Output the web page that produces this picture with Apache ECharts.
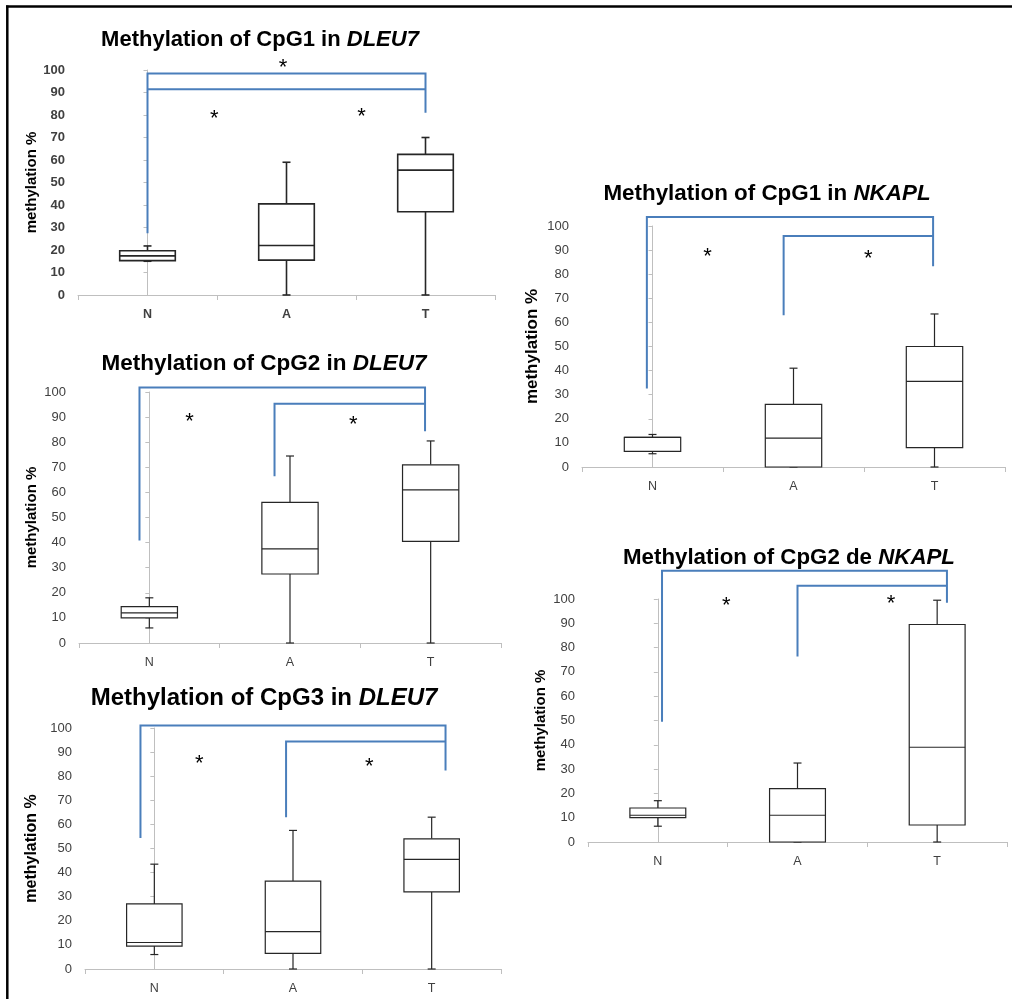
<!DOCTYPE html>
<html><head><meta charset="utf-8">
<script src="https://cdn.jsdelivr.net/npm/echarts@6/dist/echarts.min.js"></script>
<style>html,body{margin:0;padding:0;background:#fff;}#c{width:1012px;height:999px;}</style>
</head><body><div id="c"></div>
<script>
const categories = ['N', 'A', 'T'];
const yTicks = [0, 10, 20, 30, 40, 50, 60, 70, 80, 90, 100];
const yName = 'methylation %';

// box values: [min, Q1, median, Q3, max]
const boxDLEU7CpG1 = [[15, 15.3, 17.4, 19.7, 21.8], [0, 15.5, 22, 40.5, 59], [0, 37, 55.5, 62.5, 70]];
const boxDLEU7CpG2 = [[6, 10, 12, 14.5, 18], [0, 27.5, 37.5, 56, 74.5], [0, 40.5, 61, 71, 80.5]];
const boxDLEU7CpG3 = [[6, 9.5, 11, 27, 43.5], [0, 6.5, 15.5, 36.5, 57.5], [0, 32, 45.5, 54, 63]];
const boxNKAPLCpG1 = [[5.5, 6.5, 12.3, 12.3, 13.5], [0, 0, 12, 26, 41], [0, 8, 35.5, 50, 63.5]];
const boxNKAPLCpG2 = [[6.5, 10, 11, 14, 17], [0, 0, 11, 22, 32.5], [0, 7, 39, 89.5, 99.5]];

// significance brackets: [xLeft, yLeftEnd, xRight, yRightEnd, yTop] (x in category index units)
const brDLEU7CpG1 = [[0, 27.5, 2, 81, 98.5], [0, 91.4, 2, 91.4, 91.4]];
const brDLEU7CpG2 = [[-0.07, 40.8, 1.96, 84.4, 101.8], [0.89, 66.4, 1.96, 95.3, 95.3]];
const brDLEU7CpG3 = [[-0.1, 54.4, 2.1, 82.4, 101], [0.95, 63, 2.1, 94.4, 94.4]];
const brNKAPLCpG1 = [[-0.04, 32.6, 1.99, 83.3, 103.7], [0.93, 63, 1.99, 95.9, 95.9]];
const brNKAPLCpG2 = [[0.03, 49.5, 2.07, 98.5, 111.6], [1.0, 76.3, 2.07, 105.5, 105.5]];

// asterisks: [x, y]
const starDLEU7CpG1 = [[0.975, 103], [0.48, 80.5], [1.54, 81.5]];
const starDLEU7CpG2 = [[0.285, 90], [1.45, 88.8]];
const starDLEU7CpG3 = [[0.325, 87], [1.55, 86]];
const starNKAPLCpG1 = [[0.39, 89.2], [1.53, 88.6]];
const starNKAPLCpG2 = [[0.49, 99.3], [1.67, 100]];

const panels = [
  {title: ['Methylation of CpG1 in ', 'DLEU7'], boxes: boxDLEU7CpG1, br: brDLEU7CpG1, star: starDLEU7CpG1,
   grid: {left: 78, right: 517, top: 70, bottom: 704}, tx: 255, ty: 35, tsize: 22, nsize: 15, ngap: 39, lw: 1.6, bold: true},
  {title: ['Methylation of CpG2 in ', 'DLEU7'], boxes: boxDLEU7CpG2, br: brDLEU7CpG2, star: starDLEU7CpG2,
   grid: {left: 79, right: 511, top: 392, bottom: 356}, tx: 259, ty: 359, tsize: 22.5, nsize: 15, ngap: 40, lw: 1.2},
  {title: ['Methylation of CpG3 in ', 'DLEU7'], boxes: boxDLEU7CpG3, br: brDLEU7CpG3, star: starDLEU7CpG3,
   grid: {left: 85, right: 511, top: 728, bottom: 30}, tx: 259, ty: 693, tsize: 24, nsize: 16, ngap: 45, lw: 1.2},
  {title: ['Methylation of CpG1 in ', 'NKAPL'], boxes: boxNKAPLCpG1, br: brNKAPLCpG1, star: starNKAPLCpG1,
   grid: {left: 582, right: 7, top: 226, bottom: 532}, tx: 762, ty: 189, tsize: 22.4, nsize: 17, ngap: 41, lw: 1.2},
  {title: ['Methylation of CpG2 de ', 'NKAPL'], boxes: boxNKAPLCpG2, br: brNKAPLCpG2, star: starNKAPLCpG2,
   grid: {left: 588, right: 5, top: 599, bottom: 157}, tx: 784, ty: 553, tsize: 22.3, nsize: 15, ngap: 40, lw: 1.2}
];

const FONT = 'Liberation Sans';
const option = {
  animation: false,
  backgroundColor: '#fff',
  title: [], grid: [], xAxis: [], yAxis: [], series: [],
  graphic: [
    {type: 'line', shape: {x1: 6, y1: 6.5, x2: 1012, y2: 6.5}, style: {stroke: '#000', lineWidth: 2.5}},
    {type: 'line', shape: {x1: 7.3, y1: 5.5, x2: 7.3, y2: 999}, style: {stroke: '#000', lineWidth: 2.5}}
  ]
};

panels.forEach((p, i) => {
  option.title.push({
    text: '{a|' + p.title[0] + '}{b|' + p.title[1] + '}',
    left: p.tx, top: p.ty, textAlign: 'center', textVerticalAlign: 'middle',
    textStyle: {rich: {
      a: {fontFamily: FONT, fontWeight: 'bold', fontSize: p.tsize, color: '#000'},
      b: {fontFamily: FONT, fontWeight: 'bold', fontStyle: 'italic', fontSize: p.tsize, color: '#000'}
    }}
  });
  option.grid.push(Object.assign({containLabel: false}, p.grid));
  option.xAxis.push({
    type: 'category', gridIndex: i, data: categories, boundaryGap: true,
    axisLine: {lineStyle: {color: '#bfbfbf', width: 1}},
    axisTick: {show: true, length: 5, lineStyle: {color: '#bfbfbf'}},
    axisLabel: {color: '#404040', fontFamily: FONT, fontSize: 12.5, margin: 13, fontWeight: p.bold ? 'bold' : 'normal'},
    splitLine: {show: false}
  });
  option.xAxis.push({
    type: 'value', gridIndex: i, min: -0.5, max: 2.5, show: false
  });
  option.yAxis.push({
    type: 'value', gridIndex: i, min: 0, max: 100, interval: 10,
    name: yName, nameLocation: 'middle', nameGap: p.ngap, nameRotate: 90,
    nameTextStyle: {fontFamily: FONT, fontWeight: 'bold', fontSize: p.nsize, color: '#000'},
    axisLine: {show: true, lineStyle: {color: '#bfbfbf'}},
    axisTick: {show: true, length: 4, lineStyle: {color: '#bfbfbf'}},
    axisLabel: {color: '#404040', fontFamily: FONT, fontSize: 13, margin: 13, fontWeight: p.bold ? 'bold' : 'normal',
      formatter: v => yTicks.indexOf(v) >= 0 ? String(v) : ''},
    splitLine: {show: false}
  });
  const lw = p.lw;
  option.series.push({
    type: 'custom', xAxisIndex: 2 * i, yAxisIndex: i,
    data: p.boxes.map((b, k) => [k].concat(b)),
    renderItem: (params, api) => {
      const k = api.value(0);
      const bw = api.size([1, 0])[0] * 0.4;
      const cap = 8;
      const pMin = api.coord([k, api.value(1)]);
      const pQ1 = api.coord([k, api.value(2)]);
      const pMed = api.coord([k, api.value(3)]);
      const pQ3 = api.coord([k, api.value(4)]);
      const pMax = api.coord([k, api.value(5)]);
      const cx = pMed[0];
      const st = {stroke: '#262626', lineWidth: lw, fill: null};
      return {type: 'group', children: [
        {type: 'line', shape: {x1: cx, y1: pQ3[1], x2: cx, y2: pMax[1]}, style: st},
        {type: 'line', shape: {x1: cx, y1: pQ1[1], x2: cx, y2: pMin[1]}, style: st},
        {type: 'line', shape: {x1: cx - cap / 2, y1: pMax[1], x2: cx + cap / 2, y2: pMax[1]}, style: st},
        {type: 'line', shape: {x1: cx - cap / 2, y1: pMin[1], x2: cx + cap / 2, y2: pMin[1]}, style: st},
        {type: 'rect', shape: {x: cx - bw / 2, y: pQ3[1], width: bw, height: pQ1[1] - pQ3[1]},
          style: {stroke: '#262626', lineWidth: lw, fill: '#fff'}},
        {type: 'line', shape: {x1: cx - bw / 2, y1: pMed[1], x2: cx + bw / 2, y2: pMed[1]}, style: st}
      ]};
    }
  });
  option.series.push({
    type: 'custom', xAxisIndex: 2 * i + 1, yAxisIndex: i, clip: false, z: 5,
    data: p.br,
    renderItem: (params, api) => {
      const a = api.coord([api.value(0), api.value(1)]);
      const t1 = api.coord([api.value(0), api.value(4)]);
      const t2 = api.coord([api.value(2), api.value(4)]);
      const b = api.coord([api.value(2), api.value(3)]);
      return {type: 'polyline', shape: {points: [a, t1, t2, b]},
        style: {stroke: '#4a7ebb', lineWidth: 2, fill: null}};
    }
  });
  option.series.push({
    type: 'custom', xAxisIndex: 2 * i + 1, yAxisIndex: i, clip: false, z: 6,
    data: p.star,
    renderItem: (params, api) => {
      const c = api.coord([api.value(0), api.value(1)]);
      return {type: 'text', x: c[0], y: c[1] + 5,
        style: {text: '*', fontSize: 22, fontFamily: FONT, fill: '#000', align: 'center', verticalAlign: 'middle'}};
    }
  });
});

const chart = echarts.init(document.getElementById('c'), null, {renderer: 'canvas'});
chart.setOption(option);
</script>
</body></html>
